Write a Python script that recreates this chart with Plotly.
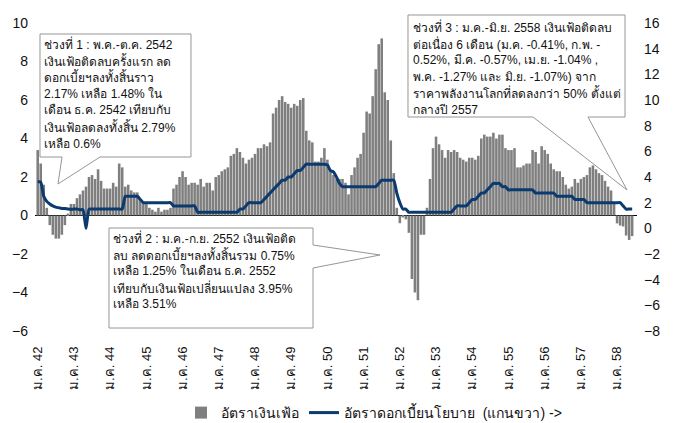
import plotly.graph_objects as go

# อัตราเงินเฟ้อทั่วไป (%YoY) รายเดือน ม.ค. 2542 - มิ.ย. 2558
inflation = [
    3.4, 2.7, 1.6, 0.4, -0.5, -1.0, -1.2, -1.2, -1.0, -0.5, 0.1, 0.6,   # 2542
    0.6, 0.9, 1.1, 1.3, 1.5, 2.0, 2.1, 1.9, 2.4, 1.8, 1.4, 1.4,         # 2543
    1.4, 1.7, 1.5, 2.7, 2.5, 1.5, 1.6, 1.3, 1.2, 1.2, 0.8, 0.7,         # 2544
    0.6, 0.4, 0.3, 0.2, 0.4, 0.2, 0.3, 0.3, 0.4, 1.4, 1.6, 2.0,         # 2545
    2.3, 2.0, 1.6, 1.7, 1.7, 1.6, 1.9, 1.5, 1.7, 1.7, 1.3, 2.0,         # 2546
    2.1, 2.3, 2.4, 2.5, 3.1, 3.2, 3.5, 3.3, 3.0, 2.7, 2.9, 3.0,         # 2547
    3.2, 3.5, 3.5, 3.7, 3.6, 3.8, 5.3, 5.6, 6.0, 6.2, 5.9, 5.8,         # 2548
    5.6, 5.8, 5.7, 6.0, 6.1, 4.4, 3.9, 3.8, 2.8, 2.8, 3.0, 3.5,         # 2549
    2.9, 2.3, 2.1, 1.9, 1.9, 1.9, 1.7, 1.1, 2.1, 2.5, 3.0, 3.2,         # 2550
    4.3, 5.4, 5.3, 6.2, 7.6, 8.9, 9.2, 6.4, 6.0, 3.9, 2.2, 0.4,         # 2551
    -0.4, -0.1, -0.2, -0.9, -3.3, -4.0, -4.4, -1.0, -1.0, 0.4, 1.9, 3.5,  # 2552
    4.1, 3.7, 3.4, 3.0, 3.4, 3.3, 3.4, 3.3, 3.0, 2.9, 2.8, 3.0,         # 2553
    3.0, 2.9, 3.1, 4.0, 4.2, 4.1, 4.1, 4.3, 4.0, 4.2, 4.2, 3.5,         # 2554
    3.4, 3.4, 3.5, 2.5, 2.5, 2.6, 2.7, 2.7, 3.4, 3.3, 2.7, 3.6,         # 2555
    3.4, 3.2, 2.7, 2.4, 2.3, 2.3, 2.0, 1.6, 1.4, 1.5, 1.9, 1.7,         # 2556
    1.9, 2.0, 2.1, 2.5, 2.6, 2.4, 2.2, 2.1, 1.8, 1.5, 1.3, 0.6,         # 2557
    -0.41, -0.52, -0.57, -1.04, -1.27, -1.07,                          # 2558
]

# อัตราดอกเบี้ยนโยบาย (%) รายเดือน (แกนขวา)
policy_rate = [
    3.65, 3.6, 2.5, 2.1, 1.9, 1.75, 1.65, 1.6, 1.55, 1.55, 1.5, 1.48,
    1.5, 1.5, 1.45, 1.45, 0.0, 1.5, 1.5, 1.5, 1.5, 1.5, 1.5, 1.5,
    1.5, 1.5, 1.5, 1.5, 1.5, 2.5, 2.5, 2.5, 2.5, 2.5, 2.25, 2.0,
    2.0, 2.0, 2.0, 2.0, 2.0, 2.0, 2.0, 2.0, 2.0, 1.75, 1.75, 1.75,
    1.75, 1.75, 1.75, 1.75, 1.75, 1.25, 1.25, 1.25, 1.25, 1.25, 1.25, 1.25,
    1.25, 1.25, 1.25, 1.25, 1.25, 1.25, 1.25, 1.5, 1.5, 1.75, 2.0, 2.0,
    2.0, 2.0, 2.0, 2.25, 2.5, 2.75, 3.0, 3.25, 3.5, 3.75, 3.75, 4.0,
    4.0, 4.25, 4.5, 4.5, 4.75, 5.0, 5.0, 5.0, 5.0, 5.0, 5.0, 5.0,
    4.94, 4.5, 4.4, 4.0, 3.5, 3.25, 3.25, 3.25, 3.25, 3.25, 3.25, 3.25,
    3.25, 3.25, 3.25, 3.25, 3.25, 3.5, 3.75, 3.75, 3.75, 3.75, 3.75, 2.75,
    2.0, 1.5, 1.5, 1.25, 1.25, 1.25, 1.25, 1.25, 1.25, 1.25, 1.25, 1.25,
    1.25, 1.25, 1.25, 1.25, 1.25, 1.25, 1.5, 1.75, 1.75, 1.75, 1.75, 2.0,
    2.25, 2.25, 2.5, 2.75, 2.75, 3.0, 3.25, 3.5, 3.5, 3.5, 3.25, 3.25,
    3.0, 3.0, 3.0, 3.0, 3.0, 3.0, 3.0, 3.0, 3.0, 2.75, 2.75, 2.75,
    2.75, 2.75, 2.75, 2.75, 2.5, 2.5, 2.5, 2.5, 2.5, 2.5, 2.25, 2.25,
    2.25, 2.25, 2.0, 2.0, 2.0, 2.0, 2.0, 2.0, 2.0, 2.0, 2.0, 2.0,
    2.0, 2.0, 1.75, 1.5, 1.5, 1.5,
]

years_be = list(range(42, 59))
tick_labels = [f"ม.ค. {y}" for y in years_be]

note_1 = ["ช่วงที่ 1 : พ.ค.-ต.ค. 2542", "เงินเฟ้อติดลบครั้งแรก ลด", "ดอกเบี้ยฯลงทั้งสิ้นราว",
          "2.17% เหลือ 1.48% ใน", "เดือน ธ.ค. 2542 เทียบกับ", "เงินเฟ้อลดลงทั้งสิ้น 2.79%",
          "เหลือ 0.6%"]
note_2 = ["ช่วงที่ 2 : ม.ค.-ก.ย. 2552 เงินเฟ้อติด", "ลบ ลดดอกเบี้ยฯลงทั้งสิ้นรวม 0.75%",
          "เหลือ 1.25% ในเดือน ธ.ค. 2552", "เทียบกับเงินเฟ้อเปลี่ยนแปลง 3.95%", "เหลือ 3.51%"]
note_3 = ["ช่วงที่ 3 : ม.ค.-มิ.ย. 2558 เงินเฟ้อติดลบ", "ต่อเนื่อง 6 เดือน (ม.ค. -0.41%, ก.พ. -",
          "0.52%, มี.ค. -0.57%, เม.ย. -1.04% ,", "พ.ค. -1.27% และ มิ.ย. -1.07%) จาก",
          "ราคาพลังงานโลกที่ลดลงกว่า 50% ตั้งแต่", "กลางปี 2557"]

W, H = 676, 423
L, R, T, B = 35, 39, 23, 92
FONT = "Liberation Sans, Arial, Tahoma, sans-serif"


def px(x):
    return (x - L) / (W - L - R)


def py(y):
    return (H - B - y) / (H - T - B)


def callout(pts):
    return "M " + " L ".join(f"{px(a):.4f},{py(b):.4f}" for a, b in pts) + " Z"


months = list(range(len(inflation)))

fig = go.Figure()
fig.add_trace(go.Bar(
    x=months, y=inflation, name="อัตราเงินเฟ้อ",
    marker=dict(color="#7f7f7f", line=dict(width=0)),
))
fig.add_trace(go.Scatter(
    x=months, y=policy_rate, name="อัตราดอกเบี้ยนโยบาย  (แกนขวา) ->",
    mode="lines", yaxis="y2",
    line=dict(color="#0a3a6e", width=3, shape="spline", smoothing=0.5),
))

# --- กล่องคำอธิบาย ---
boxes = [
    [(40, 34), (191, 34), (191, 157), (100, 157), (58, 184), (62, 157), (40, 157)],
    [(109, 228), (313, 228), (313, 245), (380, 255), (313, 268), (313, 328), (109, 328)],
    [(408, 15), (625, 15), (625, 117), (588, 117), (627, 190), (533, 117), (408, 117)],
]
text_start = [(43, 44), (112, 238), (412, 27)]
for pts, (tx, ty), lines in zip(boxes, text_start, [note_1, note_2, note_3]):
    fig.add_shape(type="path", path=callout(pts), xref="paper", yref="paper",
                  fillcolor="white", line=dict(color="#969696", width=1), layer="above")
    for i, line in enumerate(lines):
        fig.add_annotation(x=px(tx), y=py(ty + i * 16.6), xref="paper", yref="paper",
                           text=line, showarrow=False, xanchor="left", yanchor="middle",
                           align="left", borderpad=0,
                           font=dict(size=12, color="#111111", family=FONT))

fig.update_layout(
    width=W, height=H,
    margin=dict(l=L, r=R, t=T, b=B, autoexpand=False),
    paper_bgcolor="white", plot_bgcolor="white",
    font=dict(family=FONT, size=13, color="#111111"),
    bargap=0.15,
    showlegend=True,
    legend=dict(orientation="h", x=px(374), y=py(413), xanchor="center", yanchor="middle",
                font=dict(size=14), itemwidth=30),
    xaxis=dict(range=[-0.9, 198.6], tickvals=list(range(0, len(inflation), 12)),
               ticktext=tick_labels, tickangle=-90, showgrid=False, zeroline=False,
               showline=False, ticks="", tickfont=dict(size=13), ticklabelstandoff=12,
               automargin=False),
    yaxis=dict(range=[-6, 10], dtick=2, showgrid=False, zeroline=True,
               zerolinecolor="#000000", zerolinewidth=1, showline=False, ticks="",
               tickfont=dict(size=14), ticklabelstandoff=6, automargin=False),
    yaxis2=dict(range=[-8, 16], dtick=2, overlaying="y", side="right", showgrid=False,
                zeroline=False, showline=False, ticks="", tickfont=dict(size=14),
                ticklabelstandoff=6, automargin=False),
)

fig.write_html("out.html", config={"displayModeBar": False},
               post_script="document.body.style.margin = '0';")
